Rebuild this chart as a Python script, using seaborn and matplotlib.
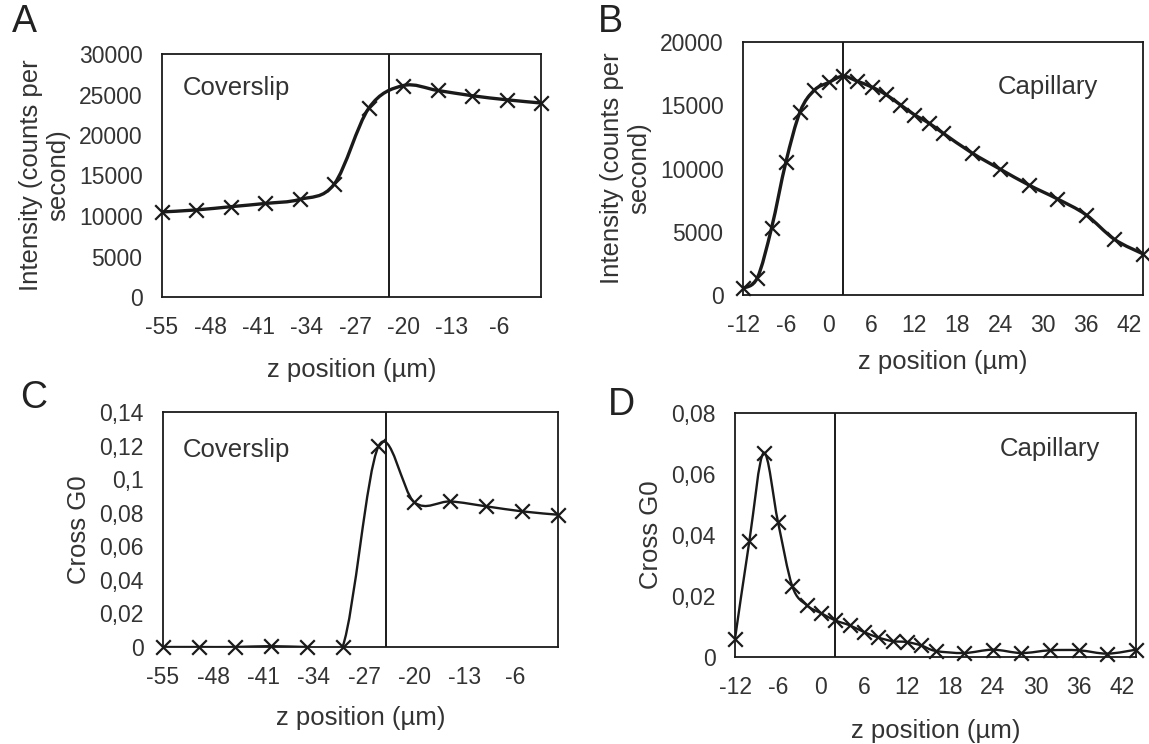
import numpy as np
import seaborn as sns
import matplotlib.pyplot as plt
from matplotlib.path import Path
from matplotlib.patches import PathPatch

# Panel A / C: coverslip scan
z_cov = [-55, -50, -45, -40, -35, -30, -25, -20, -15, -10, -5, 0]
int_cov = [10500, 10750, 11150, 11550, 12050, 13950, 23300, 26100, 25500, 24850, 24350, 23950]
g0_cov = [0, 0, 0, 0.0005, 0, 0, 0.1195, 0.0862, 0.0867, 0.0838, 0.0808, 0.0788]

# Panel B / D: capillary scan
z_cap = [-12, -10, -8, -6, -4, -2, 0, 2, 4, 6, 8, 10, 12, 14, 16, 20, 24, 28, 32, 36, 40, 44]
int_cap = [530, 1350, 5300, 10500, 14500, 16200, 16800, 17300, 16900, 16450, 15850, 15050,
           14250, 13600, 12800, 11250, 9950, 8700, 7600, 6350, 4400, 3250]
g0_cap = [0.0060, 0.0379, 0.0669, 0.0443, 0.0232, 0.0170, 0.0144, 0.0120, 0.0104, 0.0082,
          0.0064, 0.0052, 0.0049, 0.0038, 0.0020, 0.0013, 0.0024, 0.0013, 0.0022, 0.0022,
          0.0011, 0.0024]

z_mark_cov_a = -22
z_mark_cov_c = -24
z_mark_cap = 2

sns.set_theme(style='white')
plt.rcParams['font.family'] = ['Liberation Sans', 'DejaVu Sans']
text_color = '#333333'
line_color = '#1a1a1a'

fig = plt.figure(figsize=(11.49, 7.44), dpi=100)


def px_axes(l, r, t, b):
    return fig.add_axes([l / 1149, 1 - b / 744, (r - l) / 1149, (b - t) / 744])


def smooth_path(x, y, t=1 / 6):
    # Excel-like smoothed line (Catmull-Rom as cubic Bezier) through the data points
    pts = np.column_stack([x, y]).astype(float)
    n = len(pts)
    verts = [pts[0]]
    codes = [Path.MOVETO]
    for i in range(n - 1):
        p0 = pts[max(i - 1, 0)]
        p1 = pts[i]
        p2 = pts[i + 1]
        p3 = pts[min(i + 2, n - 1)]
        verts += [p1 + (p2 - p0) * t, p2 - (p3 - p1) * t, p2]
        codes += [Path.CURVE4] * 3
    return Path(verts, codes)


def comma_fmt(v):
    s = ('%.2f' % v).rstrip('0').rstrip('.')
    return s.replace('.', ',')


def draw_panel(ax, x, y, lw, xlim, xticks, ylim, yticks, ylabels, vline, note, note_pos,
               note_ha, ylabel, letter, letter_xy, xpad):
    ax.add_patch(PathPatch(smooth_path(x, y), facecolor='none', edgecolor=line_color,
                           lw=lw, zorder=3))
    sns.scatterplot(x=x, y=y, ax=ax, marker='x', s=110, color=line_color,
                    linewidth=1.6, zorder=4, clip_on=False)
    ax.axvline(vline, color=line_color, lw=1.4, zorder=2)
    ax.set_xlim(*xlim)
    ax.set_ylim(*ylim)
    ax.set_xticks(xticks)
    ax.set_xticklabels([str(v) for v in xticks])
    ax.set_yticks(yticks)
    ax.set_yticklabels(ylabels)
    ax.tick_params(length=0, pad=14, labelsize=16.5, labelcolor=text_color)
    for sp in ax.spines.values():
        sp.set_visible(True)
        sp.set_color(line_color)
        sp.set_linewidth(1.3)
    ax.set_xlabel('z position (µm)', fontsize=18.5, color=text_color, labelpad=xpad)
    ax.set_ylabel(ylabel, fontsize=18.5, color=text_color, labelpad=6)
    ax.text(note_pos[0], note_pos[1], note, transform=ax.transAxes, ha=note_ha,
            va='center', fontsize=18.5, color=text_color)
    fig.text(letter_xy[0] / 1149, 1 - letter_xy[1] / 744, letter, fontsize=27,
             color='#222222', ha='left', va='center')


ax_a = px_axes(162, 541, 54, 297)
draw_panel(ax_a, z_cov, int_cov, 2.4, (-55, 0), list(range(-55, 0, 7)), (0, 30000),
           list(range(0, 30001, 5000)), [str(v) for v in range(0, 30001, 5000)],
           z_mark_cov_a, 'Coverslip', (0.055, 0.86), 'left',
           'Intensity (counts per\nsecond)', 'A', (12, 22), 13)

ax_b = px_axes(743, 1143, 42, 295)
draw_panel(ax_b, z_cap, int_cap, 2.4, (-12, 44), list(range(-12, 44, 6)), (0, 20000),
           list(range(0, 20001, 5000)), [str(v) for v in range(0, 20001, 5000)],
           z_mark_cap, 'Capillary', (0.888, 0.822), 'right',
           'Intensity (counts per\nsecond)', 'B', (598, 22), 9)

g0_ticks_c = [round(v * 0.02, 2) for v in range(8)]
ax_c = px_axes(163, 558, 412, 647)
draw_panel(ax_c, z_cov, g0_cov, 1.7, (-55, 0), list(range(-55, 0, 7)), (0, 0.14),
           g0_ticks_c, [comma_fmt(v) for v in g0_ticks_c],
           z_mark_cov_c, 'Coverslip', (0.05, 0.838), 'left',
           'Cross G0', 'C', (20, 398), 12)

g0_ticks_d = [round(v * 0.02, 2) for v in range(5)]
ax_d = px_axes(735, 1136, 413, 657)
draw_panel(ax_d, z_cap, g0_cap, 1.7, (-12, 44), list(range(-12, 44, 6)), (0, 0.08),
           g0_ticks_d, [comma_fmt(v) for v in g0_ticks_d],
           z_mark_cap, 'Capillary', (0.91, 0.852), 'right',
           'Cross G0', 'D', (608, 405), 14)

fig.savefig('out.png', dpi=100, facecolor='white')
